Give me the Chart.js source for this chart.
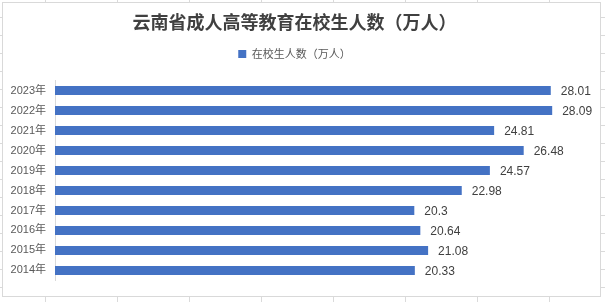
<!DOCTYPE html>
<html lang="zh-CN">

<head>
    <meta charset="UTF-8">
    <title>云南省成人高等教育在校生人数</title>
    <script src="https://cdn.jsdelivr.net/npm/chart.js"></script>
    <style>
        html, body {
            margin: 0;
            padding: 0;
            width: 605px;
            height: 302px;
            overflow: hidden;
            background-color: #fff;
            /* grade da planilha atras do grafico */
            background-image:
                linear-gradient(to right, #dadada 1px, transparent 1px),
                linear-gradient(to bottom, #dadada 1px, transparent 1px);
            background-size: 72px 18px;
            background-position: 45px 17px;
        }

        .caixa {
            position: absolute;
            left: 2px;
            top: 2px;
            width: 597px;
            height: 293px;
            border: 1px solid #d9d9d9;
            background: #fff;
        }
    </style>
</head>

<body>
    <div class="caixa">
        <canvas id="grafico" width="597" height="293"></canvas>
    </div>

    <script>
        // dados
        const anos = ['2023年', '2022年', '2021年', '2020年', '2019年', '2018年', '2017年', '2016年', '2015年', '2014年'];
        const alunos = [28.01, 28.09, 24.81, 26.48, 24.57, 22.98, 20.3, 20.64, 21.08, 20.33];
        const nomeSerie = '在校生人数（万人）';
        const titulo = '云南省成人高等教育在校生人数（万人）';

        // escreve o valor ao lado de cada barra
        const rotulos = {
            id: 'rotulos',
            afterDatasetsDraw(chart) {
                const ctx = chart.ctx;
                const meta = chart.getDatasetMeta(0);
                ctx.save();
                ctx.font = '12px "Liberation Sans", "Noto Sans", sans-serif';
                ctx.fillStyle = '#404040';
                ctx.textAlign = 'left';
                ctx.textBaseline = 'middle';
                meta.data.forEach(function (barra, i) {
                    ctx.fillText(String(alunos[i]), barra.x + 10, barra.y + 1);
                });
                ctx.restore();
            }
        };

        const config = {
            type: 'bar',
            data: {
                labels: anos,
                datasets: [{
                    label: nomeSerie,
                    data: alunos,
                    backgroundColor: '#4472C4',
                    borderWidth: 0,
                    barPercentage: 0.45,
                    categoryPercentage: 1.0
                }]
            },
            options: {
                indexAxis: 'y',
                responsive: false,
                animation: false,
                layout: {
                    padding: { left: 0, right: 14, top: 0, bottom: 13.5 }
                },
                scales: {
                    x: {
                        position: 'top',
                        min: 0,
                        max: 30,
                        grid: { display: false, drawTicks: false },
                        border: { display: false },
                        ticks: { display: false },
                        afterFit: function (s) { s.height = 11; }
                    },
                    y: {
                        grid: { display: false, drawTicks: false },
                        border: { display: true, color: '#d9d9d9', width: 1 },
                        ticks: {
                            color: '#595959',
                            padding: 9,
                            font: { family: '"Liberation Sans", "Noto Sans CJK SC", sans-serif', size: 11 }
                        },
                        afterFit: function (s) { s.width = 52; }
                    }
                },
                plugins: {
                    title: {
                        display: true,
                        text: titulo,
                        color: '#404040',
                        padding: { top: 8, bottom: 4 },
                        font: { family: '"Noto Sans CJK SC", sans-serif', size: 18, weight: 'bold' }
                    },
                    legend: {
                        display: true,
                        position: 'top',
                        labels: {
                            boxWidth: 8,
                            boxHeight: 8,
                            padding: 12,
                            color: '#595959',
                            font: { family: '"Noto Sans CJK SC", sans-serif', size: 11 }
                        }
                    },
                    tooltip: { enabled: false }
                }
            },
            plugins: [rotulos]
        };

        new Chart(document.getElementById('grafico').getContext('2d'), config);
    </script>
</body>

</html>
